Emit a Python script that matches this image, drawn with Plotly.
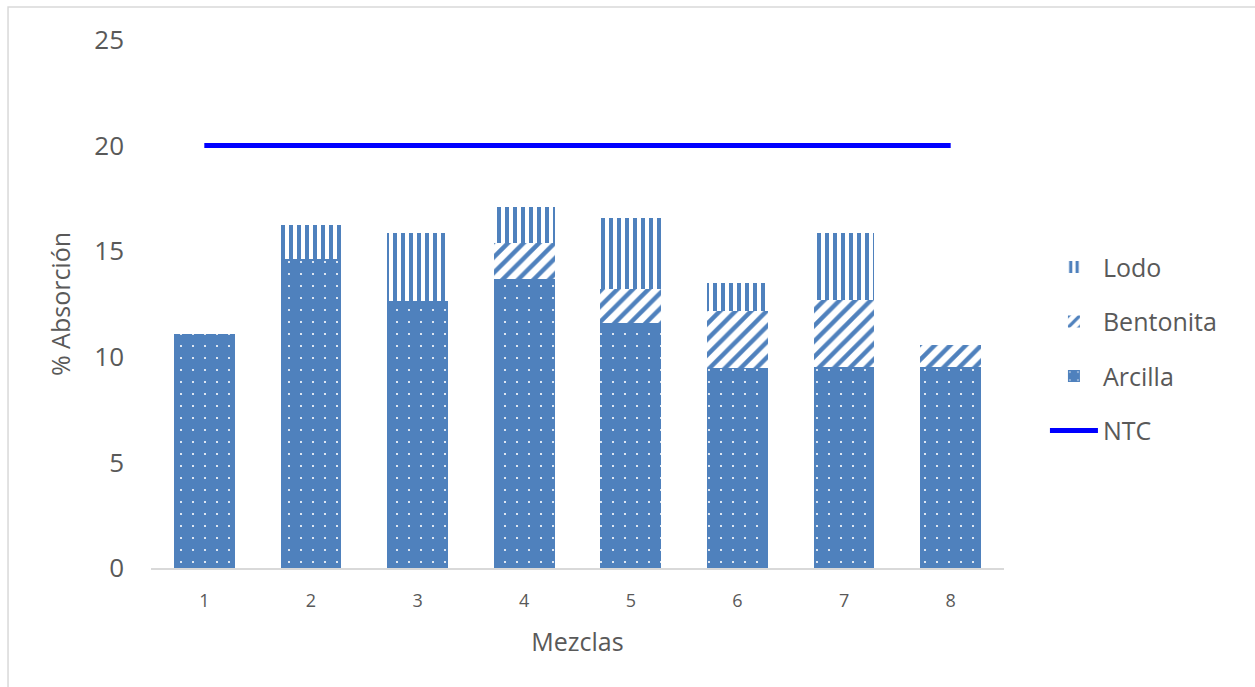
import plotly.graph_objects as go

# Absorption components for each mixture (%)
mezclas = ["1", "2", "3", "4", "5", "6", "7", "8"]
arcilla = [11.07, 14.62, 12.66, 13.67, 11.59, 9.47, 9.50, 9.50]
bentonita = [0, 0, 0, 1.70, 1.64, 2.68, 3.17, 1.04]
lodo = [0, 1.62, 3.19, 1.74, 3.32, 1.36, 3.17, 0]
ntc = [20, 20, 20, 20, 20, 20, 20, 20]
y_ticks = [0, 5, 10, 15, 20, 25]

BLUE = "#4F81BD"
TEXT = "#595959"
FONT = "Open Sans"

fig = go.Figure()

fig.add_trace(go.Bar(
    x=mezclas, y=arcilla, name="Arcilla", legendrank=3, legendgroup="a",
    marker=dict(color=BLUE, line=dict(width=0),
                pattern=dict(shape=".", bgcolor=BLUE, fgcolor="white",
                             size=12, solidity=0.025, fillmode="replace")),
))
fig.add_trace(go.Bar(
    x=mezclas, y=bentonita, name="Bentonita", legendrank=2, legendgroup="b",
    marker=dict(color=BLUE, line=dict(width=0),
                pattern=dict(shape="/", bgcolor="white", fgcolor=BLUE,
                             size=11, solidity=0.4, fillmode="replace")),
))
fig.add_trace(go.Bar(
    x=mezclas, y=lodo, name="Lodo", legendrank=1, legendgroup="c",
    marker=dict(color=BLUE, line=dict(width=0),
                pattern=dict(shape="|", bgcolor="white", fgcolor=BLUE,
                             size=8, solidity=0.5, fillmode="replace")),
))
fig.add_trace(go.Scatter(
    x=mezclas, y=ntc, name="NTC", legendrank=4, legendgroup="d",
    mode="lines", line=dict(color="#0000FF", width=5),
))

fig.update_layout(
    width=1255, height=687,
    barmode="stack", bargap=0.43,
    plot_bgcolor="white", paper_bgcolor="white",
    margin=dict(l=151, r=251, t=40, b=119),
    font=dict(family=FONT, color=TEXT),
    showlegend=True,
    legend=dict(
        x=1.048, y=0.613, xanchor="left", yanchor="top",
        traceorder="grouped", tracegroupgap=19, itemwidth=48,
        font=dict(size=25, color=TEXT, family=FONT),
        bgcolor="rgba(0,0,0,0)",
    ),
    xaxis=dict(
        type="category", showgrid=False, zeroline=False,
        showline=True, linecolor="#D9D9D9", linewidth=1.5,
        ticks="", ticklabelstandoff=16, tickfont=dict(size=18, color=TEXT),
        title=dict(text="Mezclas", font=dict(size=25, color=TEXT), standoff=22),
    ),
    yaxis=dict(
        range=[0, 25], tickvals=y_ticks, showgrid=False, zeroline=False,
        showline=False, ticks="", ticklabelstandoff=26,
        tickfont=dict(size=26, color=TEXT),
        title=dict(text="% Absorción", font=dict(size=25, color=TEXT), standoff=16),
    ),
    shapes=[dict(
        type="rect", xref="paper", yref="paper",
        x0=-0.1676, x1=1.302, y0=-0.2405, y1=1.0625,
        line=dict(color="#D9D9D9", width=1.5), fillcolor="rgba(0,0,0,0)",
        layer="below",
    )],
)

fig.write_html("out.html")
